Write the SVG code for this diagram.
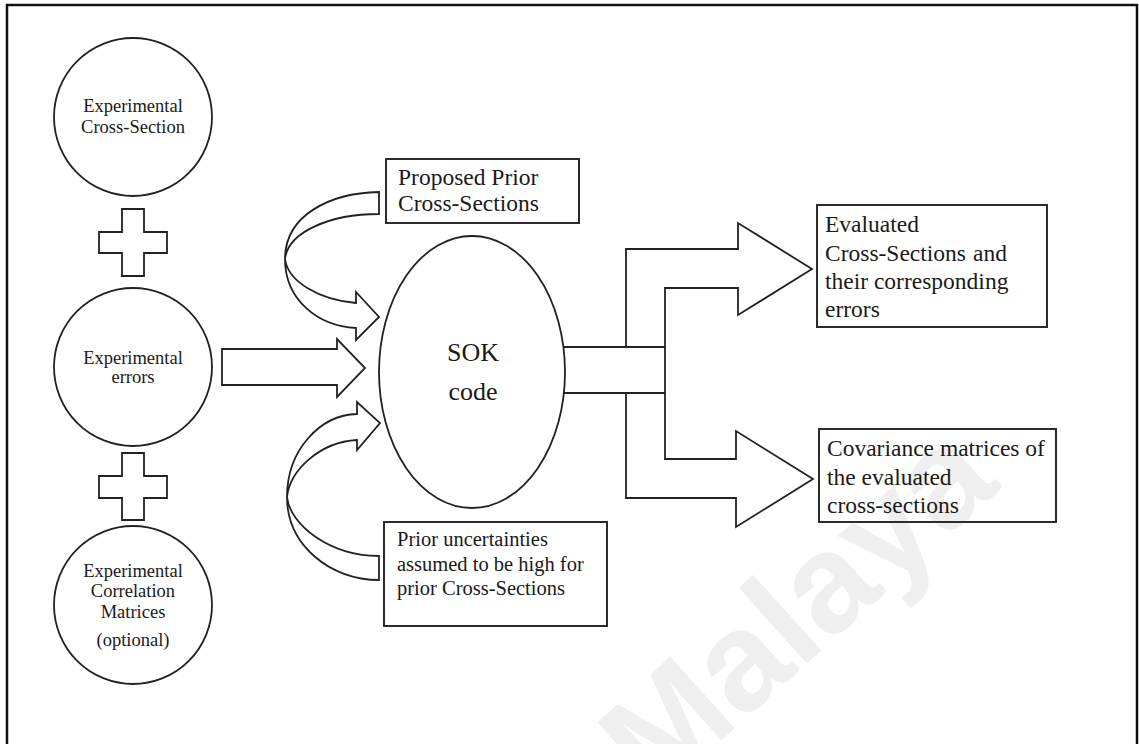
<svg xmlns="http://www.w3.org/2000/svg" width="1139" height="744" viewBox="0 0 1139 744">
  <style>
    .ln{fill:#fff;stroke:#222;stroke-width:1.8;stroke-linejoin:miter}
    .bx{fill:none;stroke:#222;stroke-width:1.9}
    .t{font-family:"Liberation Serif","Times New Roman",serif;fill:#1a1a1a}
    .c{font-size:18.5px;text-anchor:middle}
    .b{font-size:23.5px}
    .p{font-size:20.5px}
    .s{font-size:26px;text-anchor:middle}
    .wm{font-family:"Liberation Sans",Arial,sans-serif;font-weight:bold;fill:#efefef}
  </style>
  <rect width="1139" height="744" fill="#fff"/>

  <!-- background watermark -->
  <text class="wm" font-size="140" transform="translate(655,800) rotate(-42)">Malaya</text>

  <!-- page frame -->
  <rect x="7" y="5" width="1130" height="760" fill="none" stroke="#111" stroke-width="2.5"/>

  <!-- inputs -->
  <g id="exp-cross-section">
    <circle class="ln" cx="133" cy="117" r="79"/>
    <text class="t c" x="133" y="112">Experimental</text>
    <text class="t c" x="133" y="133">Cross-Section</text>
  </g>
  <g id="plus-1">
    <path class="ln" d="M122,209 H144 V232 H167 V253 H144 V276 H122 V253 H99 V232 H122 Z"/>
  </g>
  <g id="exp-errors">
    <circle class="ln" cx="133" cy="367" r="79"/>
    <text class="t c" x="133" y="364">Experimental</text>
    <text class="t c" x="133" y="383">errors</text>
  </g>
  <g id="plus-2">
    <path class="ln" d="M122,453 H144 V476 H167 V498 H144 V520 H122 V498 H99 V476 H122 Z"/>
  </g>
  <g id="exp-correlation">
    <circle class="ln" cx="133" cy="605" r="79"/>
    <text class="t c" x="133" y="577">Experimental</text>
    <text class="t c" x="133" y="597">Correlation</text>
    <text class="t c" x="133" y="618">Matrices</text>
    <text class="t c" x="133" y="646">(optional)</text>
  </g>

  <!-- block arrows -->
  <g id="connectors">
    <path class="ln" d="M222,349 H337 V339 L365,368 L337,397 V385 H222 Z"/>
    <path class="ln" d="M379,192 C330,193 285,215 285,259 C285,300 318,326 356,328 V340 L379,317 L356,292 V303 C320,300 288,282 285,259 C288,232 330,214 379,214 Z"/>
    <path class="ln" d="M379,580 C330,580 287,545 287,497 C287,450 320,415 357,414 V402 L380,423 L357,450 V440 C320,442 290,470 287,497 C290,525 330,556 379,556 Z"/>
    <path class="ln" d="M540,347 H626 V249 H738 V223 L812,269 L738,315 V288 H665 V459 H736 V431 L813,479 L736,527 V498 H626 V393 H540"/>
    <path class="bx" d="M626,347 H665 M626,393 H665"/>
  </g>

  <g id="sok-code">
    <ellipse class="ln" cx="472" cy="372" rx="93" ry="136"/>
    <text class="t s" x="473" y="361">SOK</text>
    <text class="t s" x="473" y="400">code</text>
  </g>

  <g id="proposed-prior">
    <rect class="bx" x="386" y="159" width="193" height="64"/>
    <text class="t b" x="398" y="185">Proposed Prior</text>
    <text class="t b" x="398" y="211">Cross-Sections</text>
  </g>

  <g id="prior-uncertainties">
    <rect class="bx" x="384" y="522" width="223" height="104"/>
    <text class="t p" x="397" y="546">Prior uncertainties</text>
    <text class="t p" x="397" y="571">assumed to be high for</text>
    <text class="t p" x="397" y="595">prior Cross-Sections</text>
  </g>

  <g id="evaluated">
    <rect class="bx" x="817" y="205" width="230" height="122"/>
    <text class="t b" x="825" y="232">Evaluated</text>
    <text class="t b" y="261"><tspan x="825">Cross-Sections</tspan><tspan x="973">and</tspan></text>
    <text class="t b" x="825" y="289">their corresponding</text>
    <text class="t b" x="825" y="317">errors</text>
  </g>

  <g id="covariance">
    <rect class="bx" x="819" y="429" width="237" height="93"/>
    <text class="t b" x="827" y="456">Covariance matrices of</text>
    <text class="t b" x="827" y="485">the evaluated</text>
    <text class="t b" x="827" y="513">cross-sections</text>
  </g>
</svg>
